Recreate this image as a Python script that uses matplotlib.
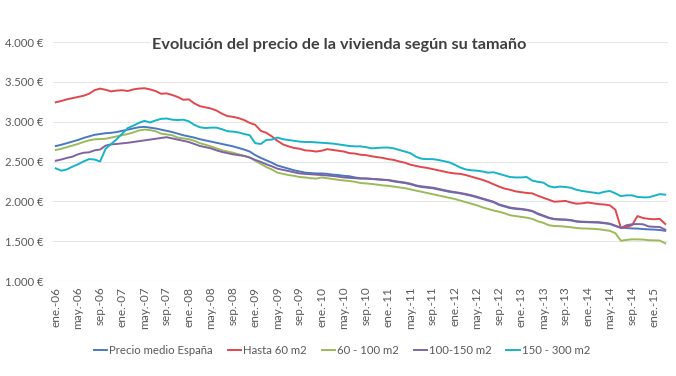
import matplotlib
matplotlib.use('Agg')
import matplotlib.pyplot as plt

# ----------------------------- DATA --------------------------------------------------------------
# precio medio (euros/m2), mensual desde ene-06 hasta mar-15
meses = ['ene.', 'feb.', 'mar.', 'abr.', 'may.', 'jun.', 'jul.', 'ago.', 'sep.', 'oct.', 'nov.', 'dic.']
anio_inicio = 2006

precio_medio = [2694, 2710, 2730, 2750, 2770, 2795, 2815, 2835, 2845, 2855,
                2860, 2870, 2885, 2900, 2915, 2930, 2935, 2925, 2915, 2900,
                2885, 2870, 2850, 2830, 2815, 2800, 2780, 2765, 2750, 2735,
                2720, 2705, 2690, 2670, 2650, 2625, 2580, 2545, 2515, 2485,
                2450, 2430, 2410, 2390, 2375, 2360, 2355, 2350, 2350, 2345,
                2335, 2330, 2320, 2315, 2300, 2290, 2285, 2280, 2275, 2270,
                2265, 2250, 2240, 2230, 2215, 2195, 2180, 2172, 2165, 2150,
                2135, 2120, 2110, 2100, 2085, 2070, 2050, 2030, 2010, 1990,
                1955, 1935, 1915, 1905, 1900, 1890, 1875, 1840, 1815, 1790,
                1775, 1770, 1768, 1760, 1745, 1740, 1738, 1735, 1733, 1725,
                1715, 1690, 1670, 1665, 1660, 1658, 1652, 1648, 1645, 1640,
                1630]

hasta_60 = [3243, 3260, 3280, 3295, 3310, 3325, 3350, 3395, 3415, 3400,
            3380, 3390, 3395, 3385, 3405, 3415, 3420, 3405, 3385, 3350,
            3355, 3335, 3310, 3275, 3280, 3230, 3195, 3180, 3165, 3140,
            3100, 3070, 3060, 3045, 3020, 2985, 2960, 2885, 2860, 2815,
            2760, 2715, 2690, 2670, 2660, 2640, 2635, 2625, 2635, 2655,
            2645, 2635, 2625, 2605, 2600, 2585, 2580, 2565, 2555, 2545,
            2530, 2520, 2500, 2485, 2460, 2445, 2430, 2420, 2405, 2390,
            2375, 2360, 2350, 2345, 2330, 2310, 2290, 2270, 2245, 2215,
            2185, 2160, 2145, 2125, 2115, 2105, 2100, 2070, 2045, 2020,
            1995, 2000, 2005, 1985, 1970, 1975, 1985, 1975, 1965, 1960,
            1950, 1895, 1665, 1680, 1700, 1815, 1790, 1780, 1775, 1780,
            1716]

de_60_100 = [2644, 2660, 2680, 2700, 2720, 2745, 2765, 2778, 2782, 2785,
             2800, 2815, 2830, 2845, 2865, 2890, 2900, 2895, 2880, 2850,
             2840, 2830, 2800, 2790, 2780, 2760, 2730, 2710, 2690, 2665,
             2640, 2625, 2610, 2590, 2570, 2550, 2510, 2470, 2430, 2400,
             2360, 2345, 2330, 2320, 2305, 2300, 2290, 2285, 2300, 2290,
             2280, 2270, 2262, 2255, 2245, 2230, 2225, 2218, 2210, 2200,
             2195, 2185, 2175, 2165, 2150, 2135, 2120, 2105, 2090, 2075,
             2060, 2045, 2030, 2010, 1990, 1970, 1950, 1925, 1905, 1885,
             1870, 1850, 1825, 1815, 1805, 1795, 1780, 1750, 1730, 1700,
             1690, 1688, 1682, 1675, 1665, 1660, 1658, 1655, 1650, 1640,
             1630, 1600, 1506, 1515, 1523, 1522, 1520, 1512, 1510, 1508,
             1473]

de_100_150 = [2510, 2525, 2545, 2560, 2590, 2610, 2615, 2640, 2650, 2700,
              2715, 2720, 2728, 2735, 2745, 2755, 2765, 2775, 2785, 2795,
              2805, 2790, 2775, 2760, 2745, 2720, 2695, 2680, 2665, 2640,
              2620, 2605, 2590, 2580, 2570, 2550, 2520, 2495, 2465, 2440,
              2410, 2395, 2380, 2365, 2350, 2345, 2340, 2335, 2330, 2325,
              2318, 2310, 2300, 2295, 2290, 2285, 2288, 2283, 2278, 2272,
              2268, 2256, 2245, 2236, 2222, 2200, 2188, 2180, 2172, 2158,
              2142, 2128, 2116, 2105, 2092, 2076, 2058, 2036, 2016, 1995,
              1962, 1942, 1922, 1912, 1905, 1895, 1880, 1848, 1822, 1795,
              1778, 1775, 1772, 1765, 1750, 1745, 1742, 1740, 1738, 1730,
              1720, 1695, 1665, 1700, 1712, 1715, 1712, 1685, 1680, 1678,
              1645]

de_150_300 = [2414, 2385, 2400, 2435, 2465, 2500, 2530, 2525, 2500, 2660,
              2720, 2780, 2850, 2920, 2950, 2985, 3010, 2990, 3015, 3035,
              3040, 3025, 3020, 3025, 3005, 2960, 2930, 2920, 2925, 2925,
              2905, 2880, 2875, 2865, 2845, 2830, 2730, 2720, 2770, 2775,
              2800, 2780, 2770, 2760, 2750, 2745, 2745, 2740, 2735, 2730,
              2725, 2715, 2705, 2695, 2690, 2690, 2680, 2665, 2670, 2675,
              2675, 2665, 2645, 2625, 2605, 2560, 2535, 2530, 2530, 2520,
              2505, 2490, 2460, 2425, 2400, 2390, 2385, 2375, 2360, 2365,
              2345, 2325, 2305, 2300, 2300, 2305, 2260, 2245, 2235, 2190,
              2175, 2185, 2180, 2170, 2145, 2130, 2120, 2110, 2100, 2120,
              2130, 2100, 2065, 2075, 2075, 2055, 2050, 2050, 2070, 2090,
              2084]

nombres = ['Precio medio España', 'Hasta 60 m2', '60 - 100 m2', '100-150 m2', '150 - 300 m2']
colores = ['#4A78C2', '#E0484E', '#9BBB59', '#8064A2', '#17B3C7']
y_ticks = [1000, 1500, 2000, 2500, 3000, 3500, 4000]


# ----------------------------- HELPERS ------------------------------------------------------------
def etiqueta_mes(i):
    return '%s-%02d' % (meses[i % 12], (anio_inicio + i // 12) % 100)

def euros(v):
    return '{:,}'.format(v).replace(',', '.') + ' €'


# ----------------------------- PLOT ---------------------------------------------------------------
plt.rcParams['font.family'] = ['Lato', 'DejaVu Sans']

fig = plt.figure(figsize=(6.76, 3.76), dpi=100)
ax = fig.add_axes([53 / 676, 1 - 281 / 376, 615 / 676, 239 / 376])

series = [precio_medio, hasta_60, de_60_100, de_100_150, de_150_300]
x = list(range(len(precio_medio)))
for datos, nombre, color in zip(series, nombres, colores):
    ax.plot(x, datos, color=color, lw=1.4, label=nombre)

ax.set_xlim(-0.5, len(x) - 0.5)
ax.set_ylim(1000, 4000)
ax.set_yticks(y_ticks)
ax.set_yticklabels([euros(v) for v in y_ticks])
pos = list(range(0, len(x), 4))
ax.set_xticks(pos)
ax.set_xticklabels([etiqueta_mes(i) for i in pos], rotation=90)

ax.grid(axis='y', color='#E6E6E6', lw=0.8)
ax.set_axisbelow(True)
for lado in ax.spines.values():
    lado.set_visible(False)
ax.tick_params(length=0, labelsize=8.5, colors='#595959', pad=4)
ax.tick_params(axis='y', labelsize=8.2, pad=7)

fig.text(339 / 676, 1 - 45 / 376, 'Evolución del precio de la vivienda según su tamaño',
         ha='center', va='center', fontsize=11.7, fontweight='bold', color='#404040',
         bbox=dict(facecolor='white', edgecolor='none', pad=1))

fig.legend(loc='center', bbox_to_anchor=(342 / 676, 1 - 350 / 376), ncol=5, frameon=False,
           fontsize=8.2, handlelength=1.2, handletextpad=0.15, columnspacing=1.3,
           labelcolor='#595959')

fig.savefig('out.png', dpi=100)
